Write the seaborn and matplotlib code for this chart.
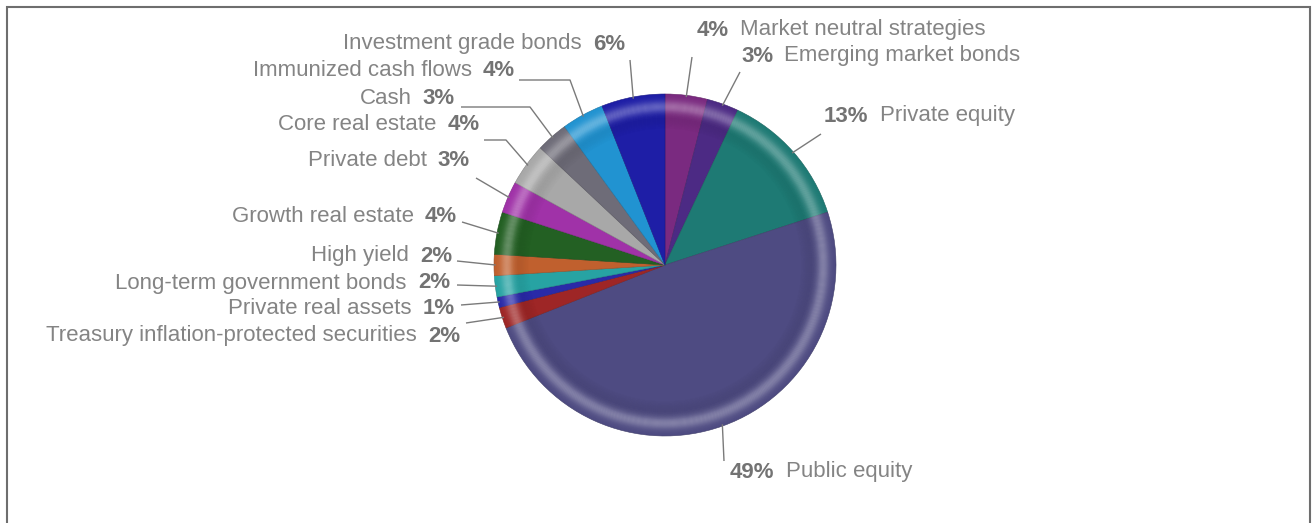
import numpy as np
import seaborn as sns
import matplotlib.pyplot as plt
from matplotlib.colors import to_rgb
from matplotlib.patches import Wedge, Rectangle

# asset allocation, clockwise from 12 o'clock
categories = ['Market neutral strategies', 'Emerging market bonds', 'Private equity',
              'Public equity', 'Treasury inflation-protected securities', 'Private real assets',
              'Long-term government bonds', 'High yield', 'Growth real estate', 'Private debt',
              'Core real estate', 'Cash', 'Immunized cash flows', 'Investment grade bonds']
shares = [4, 3, 13, 49, 2, 1, 2, 2, 4, 3, 4, 3, 4, 6]
colors = ['#7a2a80', '#4c2a84', '#1e7a74', '#4e4b82', '#9e2626', '#2a2aa8', '#27a3a3',
          '#c0602e', '#236023', '#a032a8', '#a8a8a8', '#6e6c78', '#2193d1', '#1e1ea6']

# label layout in pixels: text anchor, side, leader start and optional elbow
label_pos = [(697, 30, 'R', (692, 57), None),
             (741, 56, 'R', (740, 72), None),
             (824, 116, 'R', (821, 134), None),
             (730, 472, 'R', (724, 461), None),
             (460, 336, 'L', (466, 323), None),
             (455, 309, 'L', (461, 305), None),
             (450, 283, 'L', (457, 285), None),
             (452, 256, 'L', (457, 261), None),
             (457, 217, 'L', (462, 222), None),
             (470, 160, 'L', (476, 178), None),
             (480, 125, 'L', (484, 140), (506, 140)),
             (455, 98, 'L', (461, 107), (530, 107)),
             (515, 71, 'L', (519, 80), (570, 80)),
             (625, 44, 'L', (630, 60), None)]

W, H = 1316, 523
CX, CY, R = 665, 265, 171
FS = 16


def main():
    sns.set_theme(style='white')
    plt.rcParams['font.family'] = ['Liberation Sans', 'DejaVu Sans']

    fig = plt.figure(figsize=(W / 100, H / 100), dpi=100)
    ax = fig.add_axes([0, 0, 1, 1])

    wedges, _ = ax.pie(shares, colors=colors, center=(CX, CY), radius=R,
                       startangle=-90, counterclock=True,
                       wedgeprops=dict(linewidth=0.4))
    for w, c in zip(wedges, colors):
        w.set_edgecolor(np.array(to_rgb(c)) * 0.8)

    # glossy ring near the rim
    for r in np.arange(0.75 * R, R, 1.0):
        t = (r + 0.5) / R
        a_w = 0.30 * np.exp(-((t - 0.925) / 0.035) ** 2)
        a_k = 0.06 * np.exp(-((t - 0.85) / 0.04) ** 2)
        if a_w > 0.01:
            ax.add_patch(Wedge((CX, CY), r + 1, 0, 360, width=1, facecolor='white',
                               alpha=a_w, lw=0))
        if a_k > 0.01:
            ax.add_patch(Wedge((CX, CY), r + 1, 0, 360, width=1, facecolor='black',
                               alpha=a_k, lw=0))

    ax.set_xlim(0, W)
    ax.set_ylim(H, 0)
    ax.set_aspect('equal')
    ax.axis('off')

    # labels and leader lines
    cum = np.cumsum([0] + shares)
    total = sum(shares)
    for i, (name, val) in enumerate(zip(categories, shares)):
        tx, ty, side, p0, elbow = label_pos[i]
        phi = 2 * np.pi * (cum[i] + val / 2) / total
        ex, ey = CX + R * 0.99 * np.sin(phi), CY - R * 0.99 * np.cos(phi)
        pts = [p0] + ([elbow] if elbow else []) + [(ex, ey)]
        ax.plot([p[0] for p in pts], [p[1] for p in pts], color='#7a7a7a', lw=1.0,
                solid_capstyle='butt')

        pct = f'{val}%'
        if side == 'L':
            pt = ax.text(tx, ty, pct, ha='right', va='center', fontsize=FS,
                         fontweight='bold', color='#737373')
            ax.annotate(name, xy=(0, 0.5), xycoords=pt, xytext=(-8, 0),
                        textcoords='offset points', ha='right', va='center',
                        fontsize=FS, color='#848484')
        else:
            pt = ax.text(tx, ty, pct, ha='left', va='center', fontsize=FS,
                         fontweight='bold', color='#737373')
            ax.annotate(name, xy=(1, 0.5), xycoords=pt, xytext=(8, 0),
                        textcoords='offset points', ha='left', va='center',
                        fontsize=FS, color='#848484')

    # outer frame, open at the bottom
    fig.patches.append(Rectangle((7 / W, -0.05), (1310 - 7) / W, 1 - 7 / H + 0.05,
                                 transform=fig.transFigure, fill=False,
                                 edgecolor='#6e6e6e', lw=1.5))

    fig.savefig('out.png', dpi=100)
    plt.close(fig)


if __name__ == "__main__":
    main()
